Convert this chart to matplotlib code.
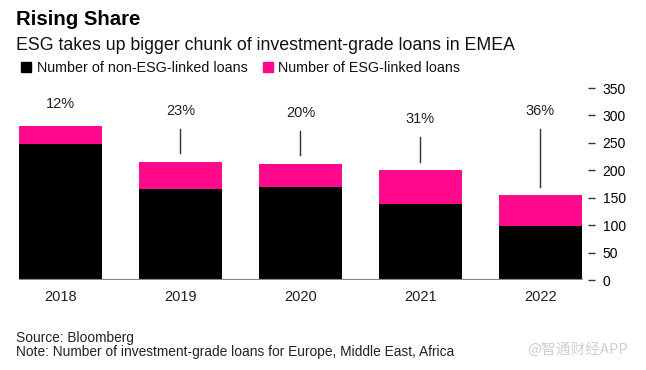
import matplotlib.pyplot as plt
from matplotlib.patches import Rectangle

# data
years = ['2018', '2019', '2020', '2021', '2022']
non_esg = [248, 166, 170, 139, 99]
esg = [33, 50, 42, 62, 56]
share_labels = ['12%', '23%', '20%', '31%', '36%']
yticks = [0, 50, 100, 150, 200, 250, 300, 350]

# where the share labels sit (data units), and whether they get a leader line
label_y = [314, 300, 297, 286, 300]
line_top = [None, 275, 272, 261, 275]

pink = '#ff0a8c'
plt.rcParams['font.family'] = ['Liberation Sans', 'DejaVu Sans']

fig = plt.figure(figsize=(6.46, 3.70), dpi=100)
W, H = 646, 370
ax = fig.add_axes([19 / W, 90 / H, 564 / W, 192 / H])

x = list(range(len(years)))
totals = [a + b for a, b in zip(non_esg, esg)]
ax.bar(x, non_esg, width=0.69, color='black', linewidth=0)
ax.bar(x, esg, bottom=non_esg, width=0.69, color=pink, linewidth=0)

for i in x:
    ax.text(i, label_y[i], share_labels[i], ha='center', va='baseline',
            fontsize=10.5, color='#222222')
    if line_top[i] is not None:
        ax.plot([i, i], [totals[i] + 15, line_top[i]], color='#333333', lw=1)

ax.axhline(0, color='#888888', lw=1.6, zorder=3)
ax.set_xlim(-0.345, 4.355)
ax.set_ylim(0, 350)

ax.set_xticks(x)
ax.set_xticklabels(years, fontsize=10.5, color='#222222')
ax.tick_params(axis='x', length=0, pad=7)

ax.yaxis.tick_right()
ax.set_yticks(yticks)
ax.set_yticklabels([str(v) for v in yticks], fontsize=10.5, color='#222222')
ax.spines['right'].set_position(('outward', 3.6))
ax.tick_params(axis='y', length=5, width=1, color='#333333', pad=5.5)
for s in ax.spines.values():
    s.set_visible(False)

# headings
fig.text(16 / W, 1 - 25 / H, 'Rising Share', fontsize=14.7, fontweight='bold',
         va='baseline', color='black')
fig.text(16 / W, 1 - 50 / H, 'ESG takes up bigger chunk of investment-grade loans in EMEA',
         fontsize=12.8, va='baseline', color='#111111')

# legend
for sx, tx, lab, col in [(21, 37, 'Number of non-ESG-linked loans', 'black'),
                         (263, 278, 'Number of ESG-linked loans', pink)]:
    fig.patches.append(Rectangle((sx / W, 1 - 72 / H), 10 / W, 10 / H,
                                 transform=fig.transFigure, color=col))
    fig.text(tx / W, 1 - 72 / H, lab, fontsize=10.3, va='baseline', color='#111111')

# footer
fig.text(16 / W, 1 - 342 / H, 'Source: Bloomberg', fontsize=9.9, va='baseline', color='#222222')
fig.text(16 / W, 1 - 356 / H, 'Note: Number of investment-grade loans for Europe, Middle East, Africa',
         fontsize=9.9, va='baseline', color='#222222')
fig.text(628 / W, 1 - 354 / H, '@智通财经APP', fontsize=10.6, va='baseline', ha='right',
         color='#cfcfcf', family=['Noto Sans CJK SC', 'DejaVu Sans'])

fig.savefig('out.png', dpi=100)
